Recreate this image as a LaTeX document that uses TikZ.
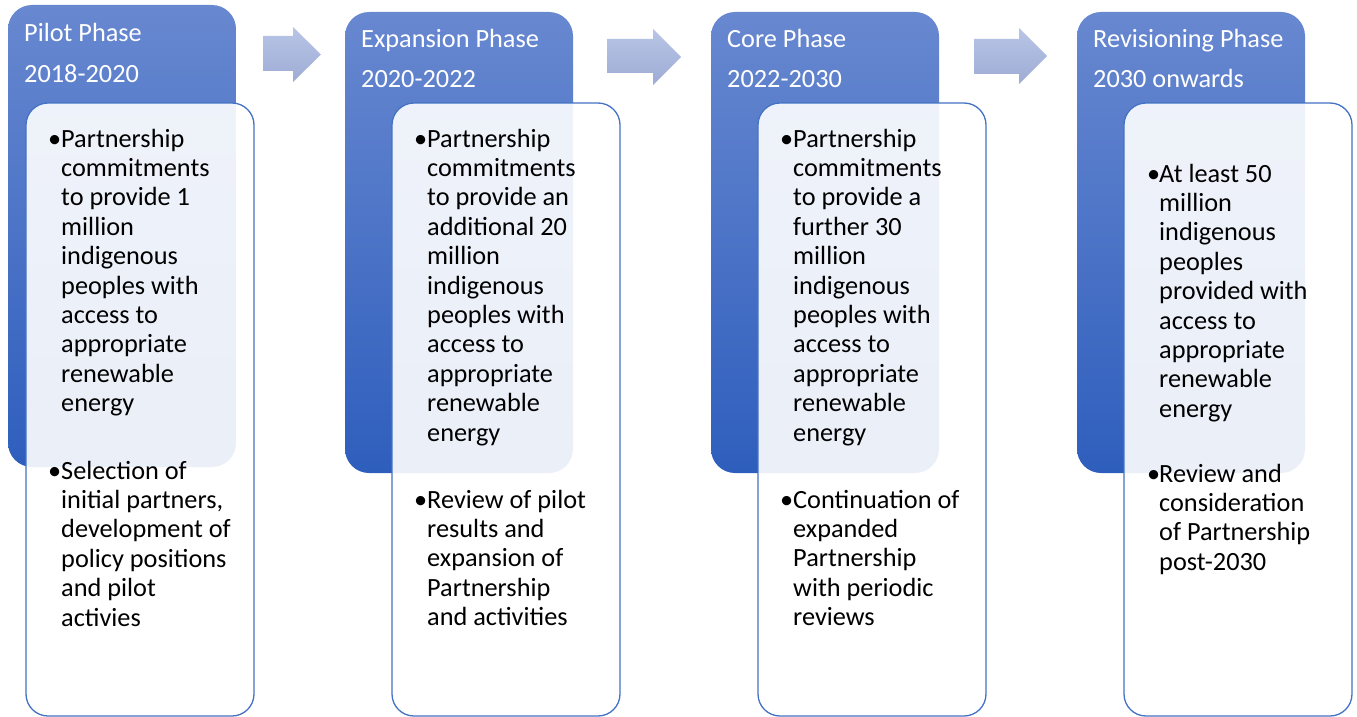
\documentclass[tikz,border=0pt]{standalone}
\usepackage{fontspec}
\setmainfont{Carlito}
\definecolor{hdrtop}{RGB}{104,136,208}
\definecolor{hdrbot}{RGB}{46,94,189}
\definecolor{arT}{RGB}{184,197,230}
\definecolor{arB}{RGB}{158,172,213}
\definecolor{inb}{RGB}{68,114,196}
\newcommand\blines[1]{\begin{tabular}[t]{@{}l@{}}#1\end{tabular}}
\begin{document}
\begin{tikzpicture}[x=1pt,y=-1pt,
  hdr/.style={anchor=north west, inner sep=0pt, outer sep=0pt, rounded corners=24pt,
    minimum width=228pt, minimum height=462pt, top color=hdrtop, bottom color=hdrbot, draw=none},
  inbox/.style={anchor=north west, inner sep=0pt, outer sep=0pt, rounded corners=22pt,
    minimum width=228pt, minimum height=613pt, draw=inb, line width=1.3pt,
    fill=white, fill opacity=0.9},
  htxt/.style={anchor=base west, inner sep=0pt, text=white, font=\fontsize{26.3}{29.4}\selectfont},
  btxt/.style={anchor=base west, inner sep=0pt, text=black, font=\fontsize{26.3}{29.4}\selectfont},
  blockarrow/.style={top color=arT, bottom color=arB, draw=none}]
\useasboundingbox (0,0) rectangle (1357,717);

% column 1
\node[hdr, minimum height=462pt] (H1) at (8,5) {};
\node[inbox] (I1) at (26,103) {};
\node[htxt] (H1a) at (24,42) {Pilot Phase};
\node[htxt] (H1b) at (24,82) {2018-2020};
\node[btxt] (U1a) at (48,147) {•};
\node[btxt] (B1a) at (61,147) {\blines{Partnership\\commitments\\to provide 1\\million\\indigenous\\peoples with\\access to\\appropriate\\renewable\\energy}};
\node[btxt] (U1b) at (48,479) {•};
\node[btxt] (B1b) at (61,479) {\blines{Selection of\\initial partners,\\development of\\policy positions\\and pilot\\activies}};

% column 2
\node[hdr, minimum height=461pt] (H2) at (345,12) {};
\node[inbox] (I2) at (392,103) {};
\node[htxt] (H2a) at (361,48) {Expansion Phase};
\node[htxt] (H2b) at (361,88) {2020-2022};
\node[btxt] (U2a) at (414,147) {•};
\node[btxt] (B2a) at (427,147) {\blines{Partnership\\commitments\\to provide an\\additional 20\\million\\indigenous\\peoples with\\access to\\appropriate\\renewable\\energy}};
\node[btxt] (U2b) at (414,508) {•};
\node[btxt] (B2b) at (427,508) {\blines{Review of pilot\\results and\\expansion of\\Partnership\\and activities}};

% column 3
\node[hdr, minimum height=461pt] (H3) at (711,12) {};
\node[inbox] (I3) at (758,103) {};
\node[htxt] (H3a) at (727,48) {Core Phase};
\node[htxt] (H3b) at (727,88) {2022-2030};
\node[btxt] (U3a) at (780,147) {•};
\node[btxt] (B3a) at (793,147) {\blines{Partnership\\commitments\\to provide a\\further 30\\million\\indigenous\\peoples with\\access to\\appropriate\\renewable\\energy}};
\node[btxt] (U3b) at (780,508) {•};
\node[btxt] (B3b) at (793,508) {\blines{Continuation of\\expanded\\Partnership\\with periodic\\reviews}};

% column 4
\node[hdr, minimum height=461pt] (H4) at (1077,12) {};
\node[inbox] (I4) at (1124,103) {};
\node[htxt] (H4a) at (1093,48) {Revisioning Phase};
\node[htxt] (H4b) at (1093,88) {2030 onwards};
\node[btxt] (U4a) at (1147,182) {•};
\node[btxt] (B4a) at (1159,182) {\blines{At least 50\\million\\indigenous\\peoples\\provided with\\access to\\appropriate\\renewable\\energy}};
\node[btxt] (U4b) at (1147,482) {•};
\node[btxt] (B4b) at (1159,482) {\blines{Review and\\consideration\\of Partnership\\post-2030}};

% block arrows
\shade[blockarrow] (263,36) -- (293,36) -- (293,27) -- (321,54.5) -- (293,82) -- (293,71) -- (263,71) -- cycle;
\shade[blockarrow] (607,39) -- (653,39) -- (653,29) -- (681,57) -- (653,85) -- (653,73) -- (607,73) -- cycle;
\shade[blockarrow] (974,39) -- (1019,39) -- (1019,28) -- (1047,56) -- (1019,84) -- (1019,74) -- (974,74) -- cycle;
\end{tikzpicture}
\end{document}
